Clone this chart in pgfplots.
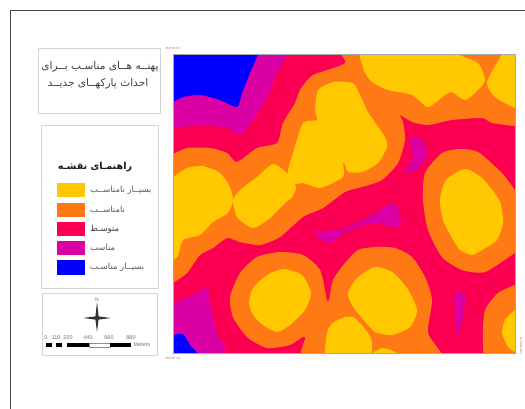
\documentclass[border=0pt]{standalone}
\usepackage{fontspec}
\setmainfont{Liberation Sans}
\newfontfamily\fa[Script=Arabic]{DejaVu Sans}
\TeXXeTstate=1
\usepackage{pgfplots}
\pgfplotsset{compat=1.18}
\definecolor{cy}{HTML}{FFC800}
\definecolor{co}{HTML}{FF7A14}
\definecolor{cr}{HTML}{FB0052}
\definecolor{cm}{HTML}{DA00A4}
\definecolor{cb}{HTML}{0000FF}
\definecolor{box}{HTML}{D4D4D4}
\pgfplotsset{
  zone/.style={fill=#1,draw=none,/tikz/smooth cycle,/tikz/tension=0.4},
  flat/.style={fill=#1,draw=none},
  boxl/.style={draw=box,fill=white,line width=0.9pt}
}
\begin{document}
\begin{tikzpicture}
\begin{axis}[width=525pt,height=409pt,scale only axis,hide axis,
  xmin=0,xmax=525,ymin=0,ymax=409,y dir=reverse,clip=true]
% page
\addplot[flat=white] coordinates {(0,0)(525,0)(525,409)(0,409)} --cycle;
% base map
\addplot[flat=cr] coordinates {(173,54)(515,54)(515,353)(173,353)} --cycle;
% magenta
\addplot[zone=cm] coordinates {(165,40)(290,40)(288,54)(277,73)(267,97)(253,120)(240,135)(228,128)(213,126)(190,126)(173,129)(165,131)};
\addplot[zone=cm] coordinates {(165,306)(173,303)(187,298)(207,288)(210,303)(217,333)(225,348)(223,365)(165,365)};
\addplot[zone=cm] coordinates {(315,233)(345,228)(372,215)(395,203)(400,227)(372,223)(345,232)(330,243)};
\addplot[zone=cm] coordinates {(412,137)(422,140)(427,155)(417,170)(405,172)(413,157)(410,143)};
\addplot[zone=cm] coordinates {(455,293)(465,295)(463,317)(458,335)(455,317)};
% blue
\addplot[zone=cb] coordinates {(165,40)(262,40)(258,54)(250,73)(242,93)(237,107)(220,100)(200,95)(183,97)(173,102)(165,105)};
\addplot[zone=cb] coordinates {(165,336)(173,335)(183,334)(190,345)(197,353)(200,365)(165,365)};
% orange
\addplot[zone=co] coordinates {(345,40)(345,63)(313,75)(300,90)(295,103)(283,123)(277,143)(257,148)(237,162)(227,153)(210,148)(187,148)(173,154)(165,156)(165,288)(173,283)(187,273)(200,255)(213,248)(227,238)(240,242)(260,245)(280,237)(303,217)(323,208)(345,192)(362,187)(382,180)(398,163)(405,140)(403,122)(400,115)(412,122)(428,125)(452,120)(482,118)(492,123)(515,126)(530,127)(530,40)};
\addplot[zone=co] coordinates {(423,200)(425,173)(442,153)(460,149)(478,152)(502,173)(515,190)(530,205)(530,245)(515,253)(485,272)(462,270)(442,257)(428,230)};
\addplot[zone=co] coordinates {(230,297)(233,317)(247,337)(267,348)(290,345)(305,337)(307,365)(440,365)(428,333)(432,300)(425,277)(412,257)(395,248)(375,247)(358,250)(345,263)(333,280)(329,300)(327,300)(320,270)(303,255)(280,252)(257,257)(240,273)};
\addplot[zone=co] coordinates {(530,280)(515,285)(498,293)(485,310)(483,333)(487,365)(530,365)};
% yellow
\addplot[zone=cy] coordinates {(165,180)(173,177)(187,168)(203,166)(220,173)(230,187)(233,200)(228,213)(213,222)(200,235)(183,240)(178,256)(173,260)(165,262)};
\addplot[zone=cy] coordinates {(233,200)(240,190)(257,177)(273,164)(287,173)(296,187)(292,197)(285,203)(270,218)(253,228)(237,217)};
\addplot[zone=cy] coordinates {(288,170)(293,153)(303,123)(317,120)(315,110)(318,90)(333,82)(345,82)(355,85)(368,112)(385,137)(387,147)(378,163)(362,172)(348,172)(345,165)(343,163)(343,177)(320,188)(303,183)(288,185)};
\addplot[zone=cy] coordinates {(363,40)(363,68)(372,82)(388,90)(412,95)(428,107)(445,95)(452,92)(465,100)(478,90)(485,80)(478,63)(458,54)(450,40)};
\addplot[zone=cy] coordinates {(510,40)(502,54)(487,82)(495,97)(515,108)(530,112)(530,40)};
\addplot[zone=cy] coordinates {(440,200)(446,180)(465,169)(482,178)(496,195)(501,205)(503,223)(497,240)(482,250)(472,255)(460,250)(452,238)(443,220)};
\addplot[zone=cy] coordinates {(249,303)(253,288)(267,275)(283,269)(302,275)(311,293)(305,310)(290,325)(277,332)(263,325)(253,315)};
\addplot[zone=cy] coordinates {(348,293)(357,278)(375,267)(392,272)(407,288)(417,310)(410,327)(392,335)(375,332)(362,318)(352,305)};
\addplot[zone=cy] coordinates {(327,365)(327,333)(333,323)(345,317)(355,318)(368,333)(372,343)(368,365)};
\addplot[zone=cy] coordinates {(373,353)(383,348)(397,353)(397,360)(373,360)};
\addplot[zone=cy] coordinates {(530,305)(515,310)(505,320)(502,333)(508,347)(515,352)(530,358)};
% white masks round the map
\addplot[flat=white] coordinates {(160,12)(525,12)(525,54)(160,54)} --cycle;
\addplot[flat=white] coordinates {(160,353)(525,353)(525,380)(160,380)} --cycle;
\addplot[flat=white] coordinates {(160,12)(173,12)(173,380)(160,380)} --cycle;
\addplot[flat=white] coordinates {(515,12)(525,12)(525,380)(515,380)} --cycle;
\addplot[draw=black!35,line width=0.5pt] coordinates {(173,54)(515,54)(515,353)(173,353)} --cycle;
% page frame
\addplot[draw=black!72,line width=1.5pt] coordinates {(525,10.5)(10.5,10.5)(10.5,409)};
% boxes
\addplot[boxl] coordinates {(38,48)(160,48)(160,113)(38,113)} --cycle;
\addplot[boxl] coordinates {(41,125)(158,125)(158,288)(41,288)} --cycle;
\addplot[boxl] coordinates {(42,293)(157,293)(157,355)(42,355)} --cycle;
% swatches
\addplot[flat=cy] coordinates {(57,183)(85,183)(85,197)(57,197)} --cycle;
\addplot[flat=co] coordinates {(57,203)(85,203)(85,217)(57,217)} --cycle;
\addplot[flat=cr] coordinates {(57,222)(85,222)(85,236)(57,236)} --cycle;
\addplot[flat=cm] coordinates {(57,241)(85,241)(85,255)(57,255)} --cycle;
\addplot[flat=cb] coordinates {(57,260)(85,260)(85,275)(57,275)} --cycle;
% compass
\addplot[flat=black!80] coordinates {(97,302)(98.6,316.4)(111,318)(98.6,319.6)(97,332)(95.4,319.6)(83,318)(95.4,316.4)} --cycle;
% scale bar
\addplot[flat=black] coordinates {(46,343)(52,343)(52,347)(46,347)} --cycle;
\addplot[flat=black] coordinates {(56,343)(62,343)(62,347)(56,347)} --cycle;
\addplot[flat=black] coordinates {(67,343)(89,343)(89,347)(67,347)} --cycle;
\addplot[draw=black!45,fill=white,line width=0.4pt] coordinates {(89,343.3)(110,343.3)(110,346.7)(89,346.7)} --cycle;
\addplot[flat=black] coordinates {(110,343)(131,343)(131,347)(110,347)} --cycle;
% text
\node[text=black!75] at (axis cs:100,67) {\fontsize{10.6}{11}\fa\beginR پهنــه هــای مناسـب بــرای\endR};
\node[text=black!75] at (axis cs:98,84) {\fontsize{10.6}{11}\fa\beginR احداث پارکهــای جدیــد\endR};
\node[text=black!90] at (axis cs:95,167) {\fontsize{9.6}{12}\fa\bfseries\beginR راهنمـای نقشـه\endR};
\node[anchor=west,inner sep=0pt,text=black!65] at (axis cs:90,190) {\fontsize{8.4}{9}\fa\beginR بسیــار نامناســب\endR};
\node[anchor=west,inner sep=0pt,text=black!65] at (axis cs:90,210) {\fontsize{8.4}{9}\fa\beginR نامناســب\endR};
\node[anchor=west,inner sep=0pt,text=black!75] at (axis cs:90,229) {\fontsize{8.4}{9}\fa\beginR متوسـط\endR};
\node[anchor=west,inner sep=0pt,text=black!65] at (axis cs:90,248) {\fontsize{8.4}{9}\fa\beginR مناسب\endR};
\node[anchor=west,inner sep=0pt,text=black!65] at (axis cs:90,267) {\fontsize{8.4}{9}\fa\beginR بسیــار مناسـب\endR};
\node[text=black!55,inner sep=0pt] at (axis cs:97,300) {\fontsize{5}{6}\selectfont N};
\node[text=black!55,inner sep=0pt] at (axis cs:46,338) {\fontsize{5.5}{6}\selectfont 0};
\node[text=black!55,inner sep=0pt] at (axis cs:56,338) {\fontsize{5.5}{6}\selectfont 110};
\node[text=black!55,inner sep=0pt] at (axis cs:68,338) {\fontsize{5.5}{6}\selectfont 220};
\node[text=black!55,inner sep=0pt] at (axis cs:88,338) {\fontsize{5.5}{6}\selectfont 440};
\node[text=black!55,inner sep=0pt] at (axis cs:109,338) {\fontsize{5.5}{6}\selectfont 660};
\node[text=black!55,inner sep=0pt] at (axis cs:131,338) {\fontsize{5.5}{6}\selectfont 880};
\node[text=black!55,inner sep=0pt] at (axis cs:142,344.5) {\fontsize{5.5}{6}\selectfont Meters};
\node[text=purple!60,inner sep=0pt] at (axis cs:173,48.5) {\fontsize{3}{4}\selectfont 466500 mE};
\node[text=purple!60,inner sep=0pt] at (axis cs:173,358.5) {\fontsize{3}{4}\selectfont 466500 mE};
\node[text=purple!60,inner sep=0pt,rotate=90] at (axis cs:521,346) {\fontsize{3}{4}\selectfont 3905000 mN};
\end{axis}
\end{tikzpicture}
\end{document}
